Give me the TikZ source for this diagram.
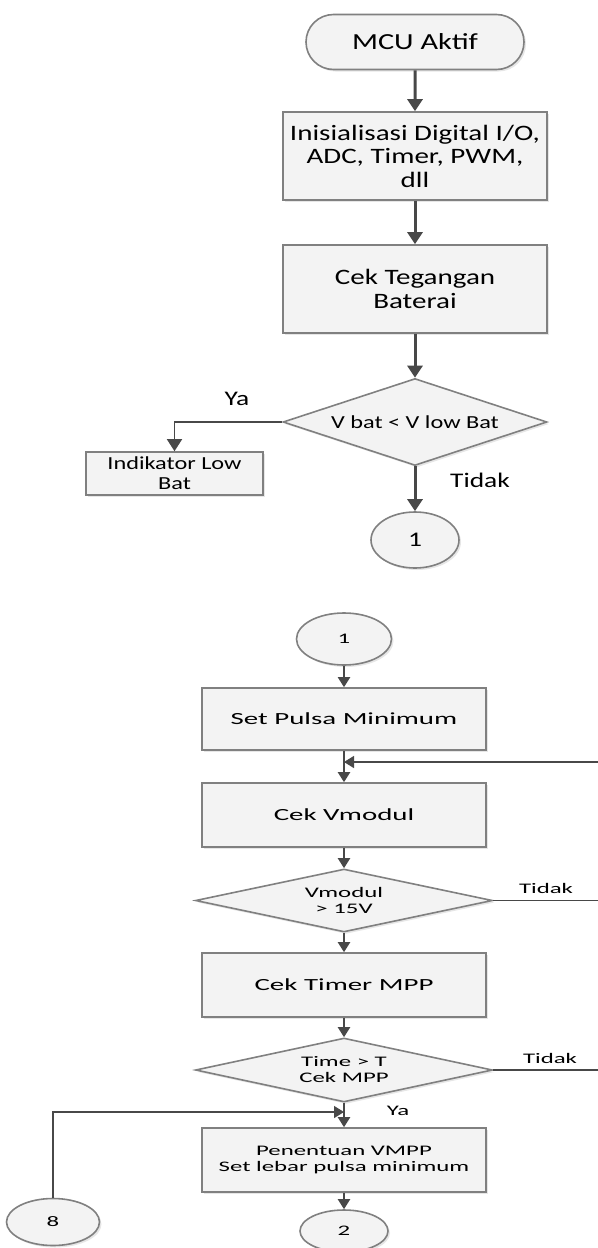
\documentclass[tikz,border=0pt]{standalone}
\usepackage{fontspec}
\setmainfont{Carlito}[FakeStretch=1.32]
\newfontfamily\botfont{Carlito}[FakeStretch=1.7]
\usetikzlibrary{shapes.geometric,shapes.misc,arrows.meta,shadows}

\begin{document}
\begin{tikzpicture}[x=0.5pt,y=-0.5pt]

    % Define colors
    \definecolor{boxborder}{RGB}{128,128,128}
    \definecolor{boxfill}{RGB}{243,243,243}
    \definecolor{arrowgray}{RGB}{72,72,72}

    \tikzset{
      chartbox/.style={draw=boxborder, line width=0.8pt, fill=boxfill,
        drop shadow={shadow xshift=1pt, shadow yshift=-1pt, opacity=0.2}, align=center, inner sep=0pt},
      terminal/.style={chartbox, rounded rectangle},
      decision/.style={chartbox, diamond, drop shadow={opacity=0}},
      connector/.style={chartbox, ellipse},
      topfont/.style={font=\fontsize{11}{11.75}\selectfont},
      smallfont/.style={font=\fontsize{9.2}{10}\selectfont},
      botfont/.style={font=\botfont\fontsize{8.5}{10}\selectfont},
      botsmall/.style={font=\botfont\fontsize{7.3}{8}\selectfont},
      toparrow/.style={draw=arrowgray, line width=1.5pt, -{Triangle[length=6pt,width=7.5pt]}},
      sidearrow/.style={draw=arrowgray, line width=0.8pt, -{Triangle[length=6pt,width=7.5pt]}},
      botarrow/.style={draw=arrowgray, line width=1pt, -{Triangle[length=5pt,width=6pt]}},
      botline/.style={draw=arrowgray, line width=0.7pt},
    }

    \useasboundingbox (0,0) rectangle (598,1248);

    % First part
    \node[terminal, minimum width=109pt, minimum height=27.5pt, font=\fontsize{11.5}{12}\selectfont] (start) at (415,42) {MCU Aktif};
    \node[chartbox, minimum width=132pt, minimum height=44pt, topfont] (init) at (415,156) {Inisialisasi Digital I/O,\\ADC, Timer, PWM,\\dll};
    \node[chartbox, minimum width=132pt, minimum height=44pt, topfont] (cekbat) at (415,289) {Cek Tegangan\\Baterai};
    \node[decision, minimum width=132pt, minimum height=43.5pt, aspect=3, smallfont] (vbat) at (415,422) {V bat < V low Bat};
    \node[chartbox, minimum width=88.5pt, minimum height=21.5pt, smallfont] (lowbat) at (174.5,473.5) {Indikator Low\\Bat};
    \node[connector, minimum width=44pt, minimum height=28pt, font=\fontsize{10.4}{12}\selectfont] (con1a) at (415,540) {1};

    \node[anchor=base, font=\fontsize{10.4}{12}\selectfont] (ya1) at (237,405) {Ya};
    \node[anchor=base, font=\fontsize{10.4}{12}\selectfont] (tidak1) at (480,487) {Tidak};

    \draw[toparrow] (start) -- (init);
    \draw[toparrow] (init) -- (cekbat);
    \draw[toparrow] (cekbat) -- (vbat);
    \draw[sidearrow] (vbat.west) -| (lowbat.north);
    \draw[toparrow] (vbat) -- (con1a);

    %-------------
    % Second part

    \node[connector, minimum width=47.5pt, minimum height=26pt, botsmall] (con1b) at (344,639) {1};
    \node[chartbox, minimum width=142pt, minimum height=31pt, botfont] (setpulsa) at (344,719) {Set Pulsa Minimum};
    \node[chartbox, minimum width=142pt, minimum height=32pt, botfont] (cekvmod) at (344,815) {Cek Vmodul};
    \node[decision, minimum width=148.5pt, minimum height=31.5pt, aspect=4.7, botsmall] (vmod) at (344,900.5) {Vmodul\\> 15V};
    \node[chartbox, minimum width=142pt, minimum height=32pt, botfont] (cektimer) at (344,985) {Cek Timer MPP};
    \node[decision, minimum width=148.5pt, minimum height=32pt, aspect=4.7, botsmall] (timempp) at (344,1070) {Time > T\\Cek MPP};
    \node[chartbox, minimum width=142pt, minimum height=32pt, botsmall] (vmpp) at (344,1160) {Penentuan VMPP\\Set lebar pulsa minimum};
    \node[connector, minimum width=44pt, minimum height=21pt, botsmall] (con2) at (344,1231) {2};
    \node[connector, minimum width=46.5pt, minimum height=23.5pt, botsmall] (con8) at (53,1222) {8};

    \node[anchor=base, botsmall] (tidak2) at (546,893) {Tidak};
    \node[anchor=base, botsmall] (tidak3) at (550,1063) {Tidak};
    \node[anchor=base, botsmall] (ya2) at (398,1115) {Ya};

    \coordinate (loopin) at (598,762);
    \coordinate (join1) at (344,762);
    \coordinate (vmodout) at (598,900.5);
    \coordinate (timeout) at (598,1070);
    \coordinate (join2) at (344,1112);

    \draw[botarrow] (con1b) -- (setpulsa);
    \draw[botarrow] (setpulsa) -- (cekvmod);
    \draw[botarrow, line width=0.7pt] (loopin) -- (join1);
    \draw[botarrow] (cekvmod) -- (vmod);
    \draw[botline] (vmod.east) -- (vmodout);
    \draw[botarrow] (vmod) -- (cektimer);
    \draw[botarrow] (cektimer) -- (timempp);
    \draw[botline] (timempp.east) -- (timeout);
    \draw[botarrow] (timempp) -- (vmpp);
    \draw[botarrow, line width=0.7pt] (con8.north) |- (join2);
    \draw[botarrow] (vmpp) -- (con2);

\end{tikzpicture}
\end{document}
